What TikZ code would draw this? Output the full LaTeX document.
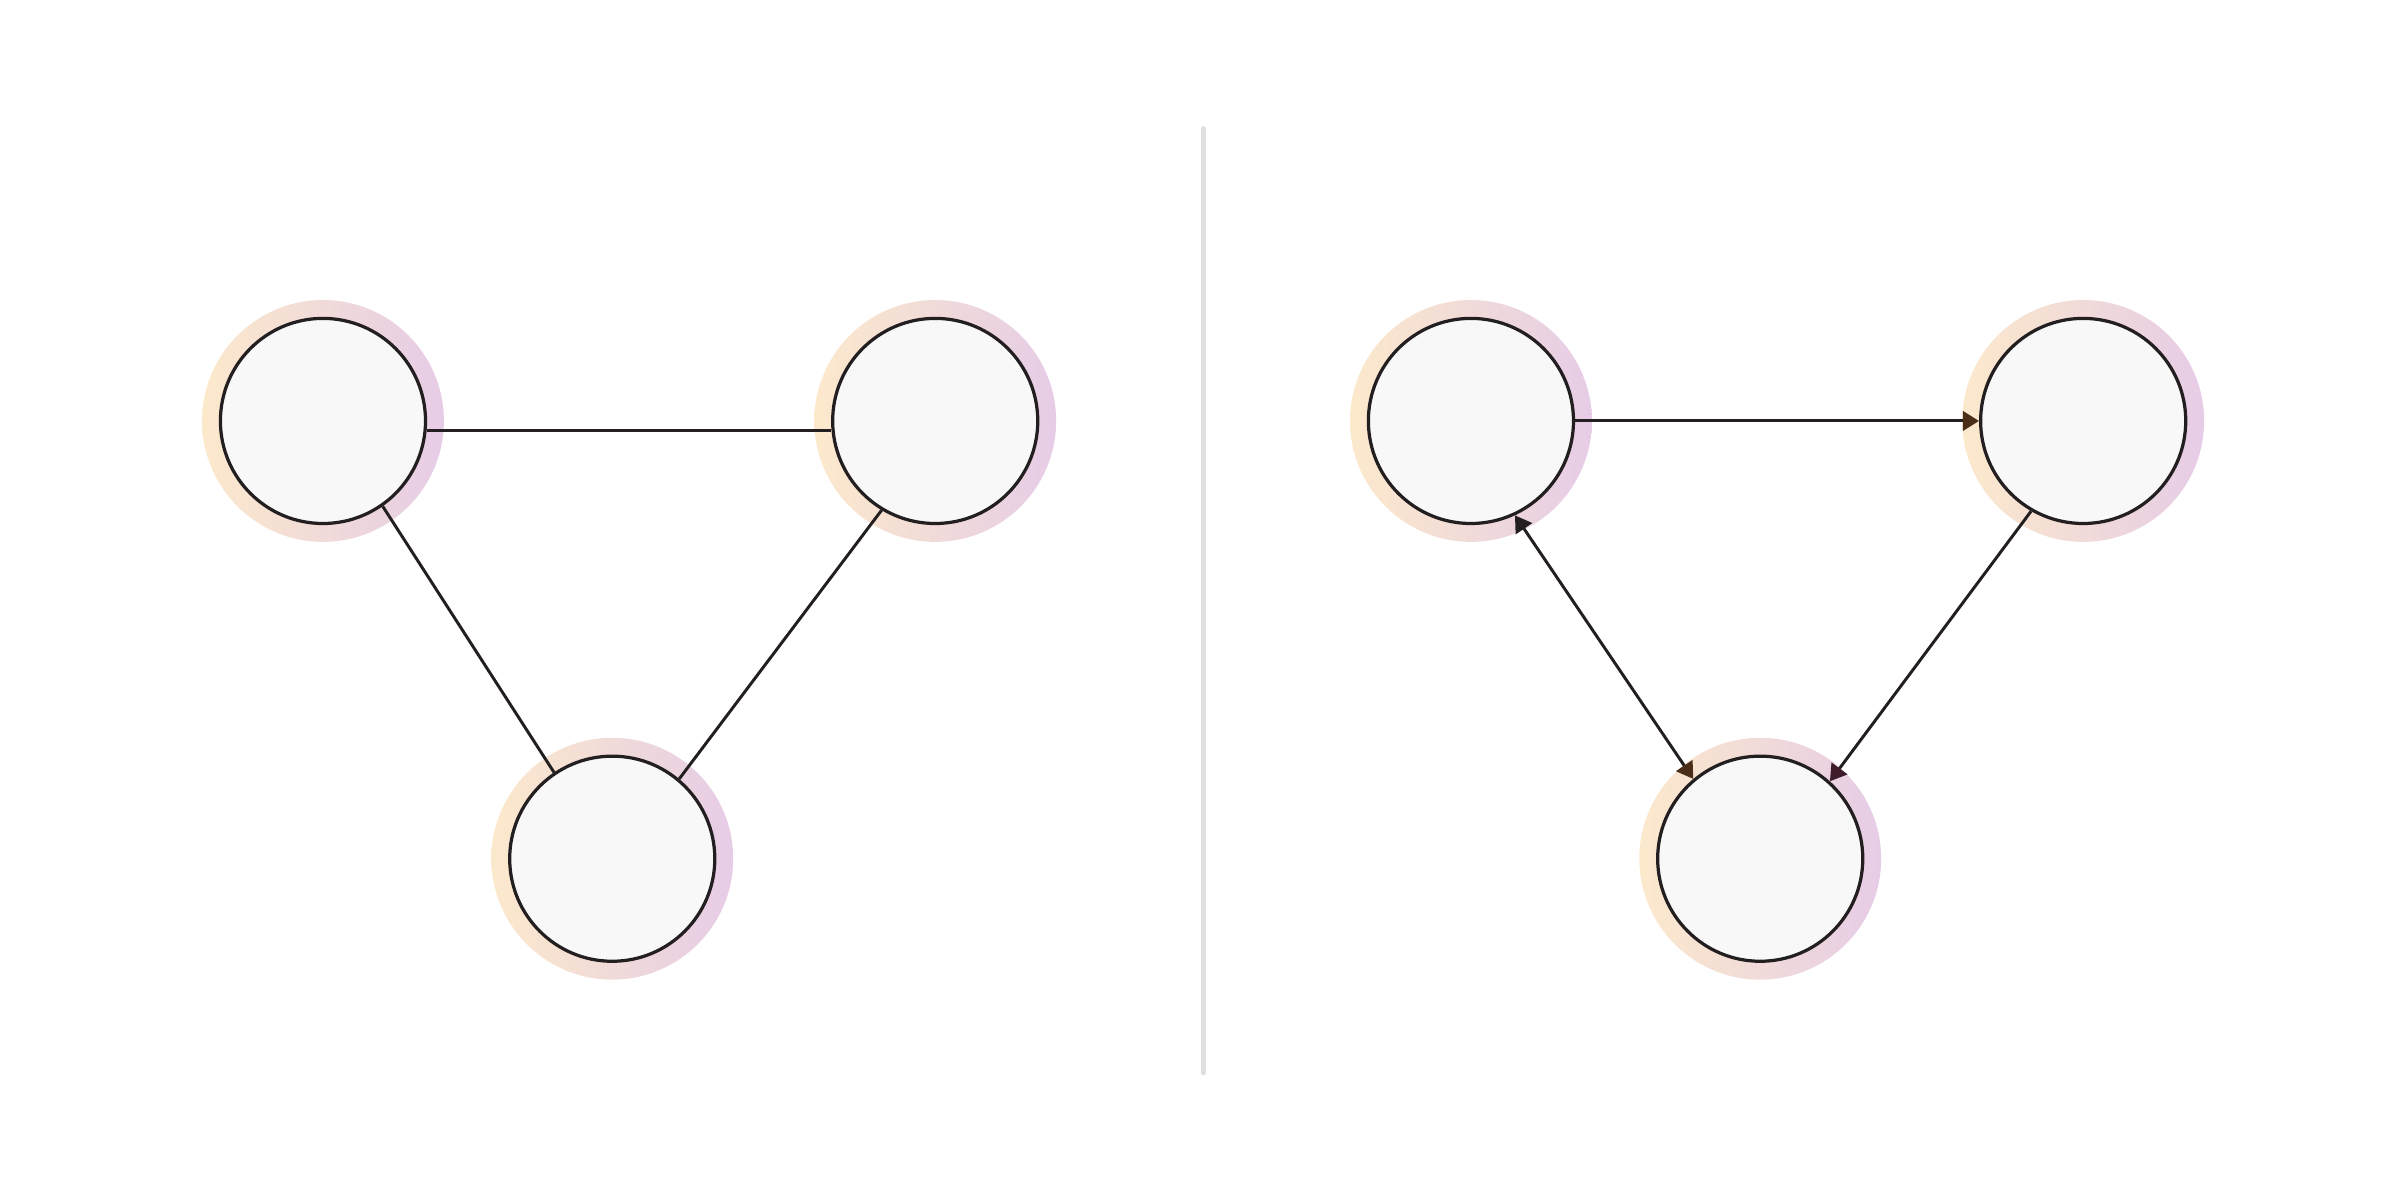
\documentclass[tikz,border=0pt]{standalone}
\usepackage{tikz}
\usetikzlibrary{arrows.meta, shadings}

\definecolor{ink}{HTML}{231F20}
\definecolor{vfill}{HTML}{F8F8F8}
\definecolor{peach}{HTML}{FCE9CC}
\definecolor{rose}{HTML}{F4D0D8}
\definecolor{lilac}{HTML}{E6CCE6}
\definecolor{tipbrown}{HTML}{4A2E19}
\definecolor{tipwine}{HTML}{3E1C2B}
\definecolor{rule}{HTML}{E0E0E0}

\begin{document}
\begin{tikzpicture}[
    halo/.style={left color=peach, middle color=rose, right color=lilac},
    vertex/.style={circle, draw=ink, fill=vfill, line width=0.6pt, minimum size=1.34cm, inner sep=0pt},
    link/.style={draw=ink, line width=0.55pt}
  ]

% Frame
        \useasboundingbox (0,0) rectangle (15.68,-7.84);

% Divider
        \draw[rule, line width=0.9pt, line cap=round] (7.86,-0.84) -- (7.86,-7.01);

% Vertices with halos
        \foreach \n/\x/\y in {a/2.11/2.75, b/6.11/2.75, c/4.00/5.61, d/9.61/2.75, e/13.61/2.75, f/11.50/5.61} {
          \shade[halo] (\x,-\y) circle (0.79);
          \node[vertex] (\n) at (\x,-\y) {};
        }

% Undirected triangle
        \draw[link] (a.-5) -- (b.185);
        \draw[link] (a.-55) -- (c.124);
        \draw[link] (c.50) -- (b.239);

% Directed triangle
        \draw[link, -{Triangle[length=3pt, width=3.6pt, color=tipbrown]}] (d.east) -- (e.west);
        \draw[link, {Triangle[length=3pt, width=3.6pt, color=ink]}-{Triangle[length=3pt, width=3.6pt, color=tipbrown]}] (d.-65) -- (f.130);
        \draw[link, -{Triangle[length=3pt, width=3.6pt, color=tipwine]}] (e.-120) -- (f.48);

      \end{tikzpicture}
\end{document}
